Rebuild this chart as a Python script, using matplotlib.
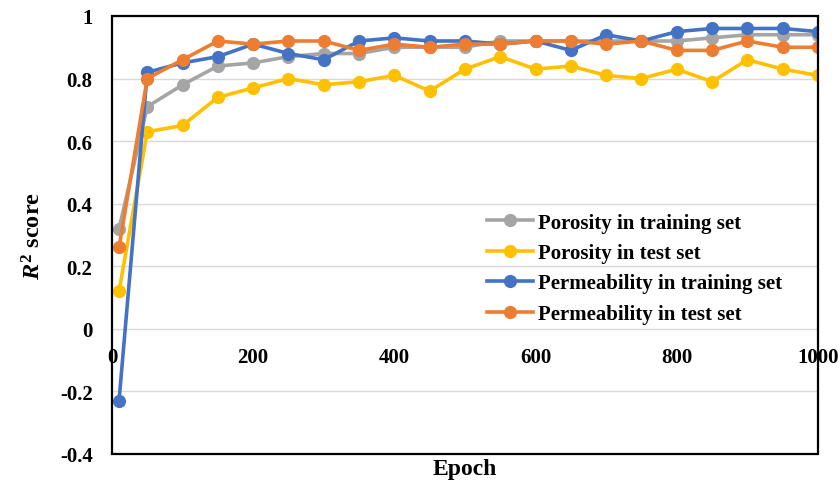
import matplotlib.pyplot as plt
from matplotlib.patches import Rectangle

plt.rcParams['font.family'] = ['Liberation Serif', 'DejaVu Serif']
plt.rcParams['mathtext.fontset'] = 'custom'
plt.rcParams['mathtext.it'] = 'Liberation Serif:italic:bold'
plt.rcParams['mathtext.rm'] = 'Liberation Serif:bold'
plt.rcParams['mathtext.bf'] = 'Liberation Serif:bold'

# Epochs and R2 scores
epochs = [10, 50, 100, 150, 200, 250, 300, 350, 400, 450, 500,
          550, 600, 650, 700, 750, 800, 850, 900, 950, 1000]
porosity_train = [0.32, 0.71, 0.78, 0.84, 0.85, 0.87, 0.88, 0.88, 0.90, 0.90, 0.90,
                  0.92, 0.92, 0.92, 0.92, 0.92, 0.92, 0.93, 0.94, 0.94, 0.94]
porosity_test = [0.12, 0.63, 0.65, 0.74, 0.77, 0.80, 0.78, 0.79, 0.81, 0.76, 0.83,
                 0.87, 0.83, 0.84, 0.81, 0.80, 0.83, 0.79, 0.86, 0.83, 0.81]
perm_train = [-0.23, 0.82, 0.85, 0.87, 0.91, 0.88, 0.86, 0.92, 0.93, 0.92, 0.92,
              0.91, 0.92, 0.89, 0.94, 0.92, 0.95, 0.96, 0.96, 0.96, 0.95]
perm_test = [0.26, 0.80, 0.86, 0.92, 0.91, 0.92, 0.92, 0.89, 0.91, 0.90, 0.91,
             0.91, 0.92, 0.92, 0.91, 0.92, 0.89, 0.89, 0.92, 0.90, 0.90]

series = [
    ("Porosity in training set", porosity_train, "#A5A5A5"),
    ("Porosity in test set", porosity_test, "#FFC000"),
    ("Permeability in training set", perm_train, "#4472C4"),
    ("Permeability in test set", perm_test, "#ED7D31"),
]

fig = plt.figure(figsize=(8.4, 4.85), dpi=100)
ax = fig.add_axes([0.1333, 0.062, 0.8405, 0.903])

for label, vals, color in series:
    ax.plot(epochs, vals, color=color, lw=2.6, marker='o', markersize=8.5, label=label)

ax.set_xlim(0, 1000)
ax.set_ylim(-0.4, 1.0)
ax.set_yticks([-0.4, -0.2, 0, 0.2, 0.4, 0.6, 0.8, 1.0])
ax.set_yticklabels(['-0.4', '-0.2', '0', '0.2', '0.4', '0.6', '0.8', '1'])
ax.set_xticks([0, 200, 400, 600, 800, 1000])
ax.grid(axis='y', color='#D9D9D9', lw=1)
ax.set_axisbelow(True)

# x axis labels sit at y = 0, frame drawn separately
ax.spines['bottom'].set_position(('data', 0))
for s in ax.spines.values():
    s.set_visible(False)
ax.add_patch(Rectangle((0, 0), 1, 1, transform=ax.transAxes, fill=False,
                       ec='black', lw=1.6, clip_on=False, zorder=5))

ax.tick_params(axis='both', length=0, labelsize=15)
ax.tick_params(axis='x', pad=13)
ax.tick_params(axis='y', pad=14)
for t in ax.get_xticklabels() + ax.get_yticklabels():
    t.set_fontweight('bold')

ax.set_ylabel(r'$R^2$ score', fontsize=17.5, fontweight='bold', labelpad=10)
fig.text(0.553, 0.01, 'Epoch', ha='center', va='bottom', fontsize=17, fontweight='bold')

ax.legend(loc='upper left', bbox_to_anchor=(0.52, 0.57), frameon=False,
          prop={'weight': 'bold', 'size': 15}, handlelength=2.2,
          handletextpad=0.25, labelspacing=0.5, borderaxespad=0)

plt.savefig('out.png', dpi=100)
